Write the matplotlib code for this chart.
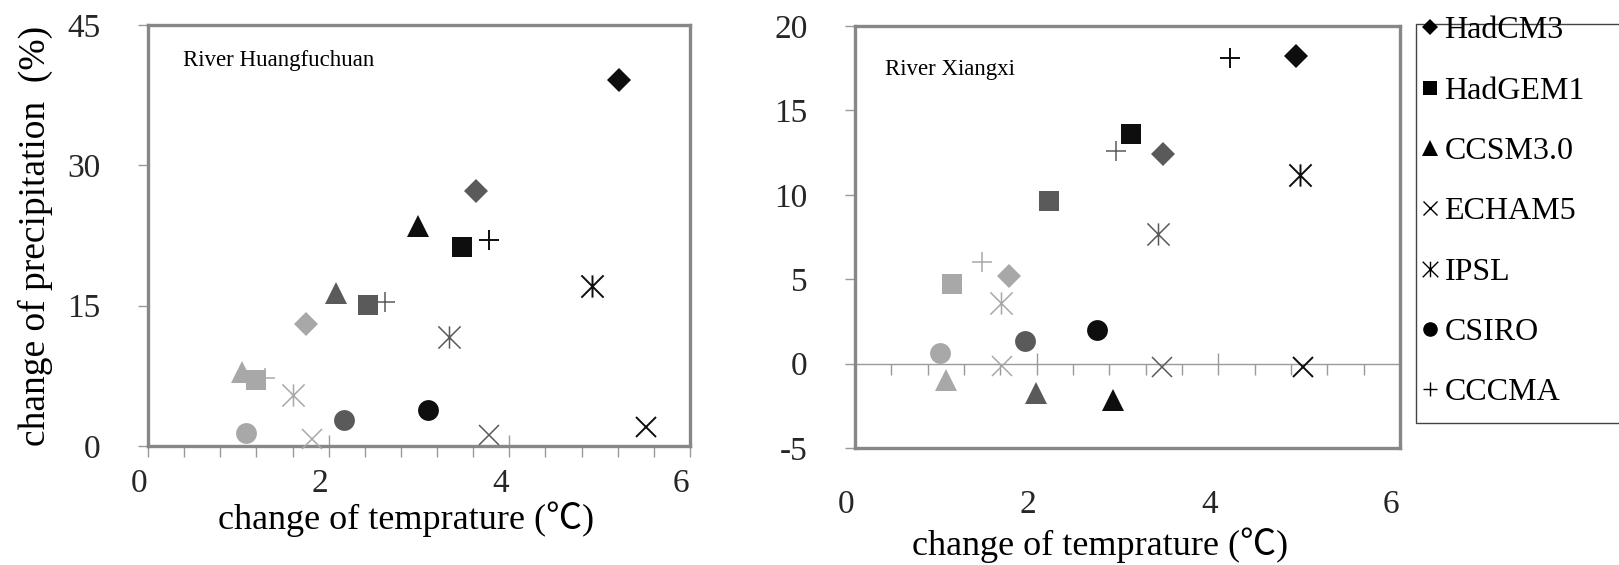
import matplotlib
matplotlib.use("Agg")
import matplotlib.pyplot as plt
import matplotlib.transforms as mtransforms
from matplotlib.path import Path
from matplotlib.lines import Line2D
from matplotlib.patches import Rectangle
from matplotlib.ticker import MultipleLocator

plt.rcParams['font.family'] = ['Liberation Serif', 'Noto Sans CJK SC']
plt.rcParams['axes.unicode_minus'] = False

# data: three points per model (light -> dark gray -> black)
models = ['HadCM3', 'HadGEM1', 'CCSM3.0', 'ECHAM5', 'IPSL', 'CSIRO', 'CCCMA']

hf_dt = [[1.75, 3.63, 5.21],   # HadCM3
         [1.20, 2.44, 3.48],   # HadGEM1
         [1.04, 2.08, 2.99],   # CCSM3.0
         [1.82, 3.77, 5.51],   # ECHAM5
         [1.61, 3.33, 4.92],   # IPSL
         [1.08, 2.17, 3.10],   # CSIRO
         [1.30, 2.62, 3.77]]   # CCCMA
hf_dp = [[13.0, 27.3, 39.1],
         [7.1, 15.1, 21.3],
         [7.9, 16.4, 23.5],
         [0.7, 1.2, 2.0],
         [5.5, 11.7, 17.1],
         [1.35, 2.75, 3.9],
         [7.3, 15.35, 22.0]]

xx_dt = [[1.70, 3.39, 4.86],
         [1.07, 2.14, 3.04],
         [1.00, 1.99, 2.84],
         [1.62, 3.38, 4.93],
         [1.61, 3.34, 4.90],
         [0.94, 1.87, 2.66],
         [1.40, 2.87, 4.13]]
xx_dp = [[5.2, 12.4, 18.25],
         [4.7, 9.65, 13.6],
         [-0.98, -1.73, -2.17],
         [-0.16, -0.19, -0.2],
         [3.58, 7.65, 11.2],
         [0.61, 1.36, 2.0],
         [6.0, 12.6, 18.1]]

hf_xticks = [0, 2, 4, 6]
hf_yticks = [0, 15, 30, 45]
xx_xticks = [0, 2, 4, 6]
xx_yticks = [-5, 0, 5, 10, 15, 20]

# styles
shades = ['#a8a8a8', '#5a5a5a', '#0e0e0e']
ast = Path([(-0.5, -0.5), (0.5, 0.5), (-0.5, 0.5), (0.5, -0.5), (0, -0.5), (0, 0.5)],
           [Path.MOVETO, Path.LINETO] * 3)
mk = ['D', 's', '^', 'x', ast, 'o', '+']
ms = [12, 15, 16, 15, 16, 15, 15]
filled = [True, True, True, False, False, True, False]
frame_col = '#878787'
tick_col = '#9a9a9a'
label_col = '#262626'

W, H = 1619, 565
fig = plt.figure(figsize=(W / 100, H / 100), dpi=100)


def box(l, t, r, b):
    return [l / W, 1 - b / H, (r - l) / W, (b - t) / H]


ax1 = fig.add_axes(box(148, 25, 690, 446))
ax2 = fig.add_axes(box(855, 26, 1400, 448))


def draw_points(ax, dts, dps):
    for i in range(len(models)):
        for k in range(3):
            if filled[i]:
                ax.plot(dts[i][k], dps[i][k], ls='none', marker=mk[i], ms=ms[i],
                        color=shades[k], mew=0, zorder=3, clip_on=False)
            else:
                ax.plot(dts[i][k], dps[i][k], ls='none', marker=mk[i], ms=ms[i],
                        color=shades[k], mew=1.4 if k == 2 else 1.1, zorder=3, clip_on=False)


def style_frame(ax):
    for s in ax.spines.values():
        s.set_color(frame_col)
        s.set_linewidth(2.4)
    ax.tick_params(axis='y', which='major', direction='out', length=7, width=1,
                   color=tick_col, labelsize=24, labelcolor=label_col, pad=27)


# left panel: River Huangfuchuan
draw_points(ax1, hf_dt, hf_dp)
ax1.set_xlim(0, 6)
ax1.set_ylim(0, 45)
ax1.set_xticks(hf_xticks)
ax1.set_yticks(hf_yticks)
ax1.xaxis.set_minor_locator(MultipleLocator(0.4))
style_frame(ax1)
ax1.tick_params(axis='x', which='major', direction='inout', length=16, width=1,
                color=tick_col, labelsize=24, labelcolor=label_col, pad=8)
ax1.tick_params(axis='x', which='minor', direction='out', length=8, width=1, color=tick_col)
ax1.set_xlabel('change of temprature (℃)', fontsize=26, va='top')
ax1.xaxis.set_label_coords(0.476, -0.131)
ax1.set_ylabel('change of precipitation  (%)', fontsize=27)
ax1.yaxis.set_label_coords(-0.175, 0.5)
ax1.text(0.065, 0.915, 'River Huangfuchuan', transform=ax1.transAxes,
         fontsize=16.5, va='center', ha='left')

# right panel: River Xiangxi
draw_points(ax2, xx_dt, xx_dp)
ax2.set_xlim(0, 6)
ax2.set_ylim(-5, 20)
ax2.set_xticks(xx_xticks)
ax2.set_yticks(xx_yticks)
style_frame(ax2)
ax2.tick_params(axis='x', which='major', length=0, labelsize=24,
                labelcolor=label_col, pad=30)
ax2.set_xlabel('change of temprature (℃)', fontsize=26, va='top')
ax2.xaxis.set_label_coords(0.45, -0.188)
ax2.text(0.055, 0.896, 'River Xiangxi', transform=ax2.transAxes,
         fontsize=16.5, va='center', ha='left')

# horizontal axis crossing at zero
zero_pos = (0 - xx_yticks[0]) / (xx_yticks[-1] - xx_yticks[0])
sec = ax2.secondary_xaxis(zero_pos)
sec.set_xticks(xx_xticks)
sec.xaxis.set_minor_locator(MultipleLocator(0.4))
sec.tick_params(which='major', direction='inout', length=16, width=1, color=tick_col,
                labelbottom=False)
sec.tick_params(which='minor', direction='out', length=8, width=1, color=tick_col)
sec.spines['bottom'].set_color(tick_col)
sec.spines['bottom'].set_linewidth(1)

# shift x tick labels slightly left, as in the original
shift = mtransforms.ScaledTranslation(-9 / 100, 0, fig.dpi_scale_trans)
for ax in (ax1, ax2):
    for lab in ax.get_xticklabels():
        lab.set_transform(lab.get_transform() + shift)

# legend
fig.add_artist(Rectangle((1416 / W, 1 - 423 / H), 0.2, (423 - 24) / H,
                         transform=fig.transFigure, fill=False,
                         edgecolor='#444444', linewidth=1))
handles = []
for i in range(len(models)):
    handles.append(Line2D([], [], ls='none', marker=mk[i], color='black',
                          ms=ms[i] * 0.7, mew=0 if filled[i] else 1.0, label=models[i]))
fig.legend(handles=handles, loc='upper left', bbox_to_anchor=(1419 / W, 1 - 16 / H),
           frameon=False, fontsize=23, handlelength=0.7, handletextpad=0.1,
           labelspacing=0.97, borderpad=0, borderaxespad=0)

fig.savefig('out.png', dpi=100)
